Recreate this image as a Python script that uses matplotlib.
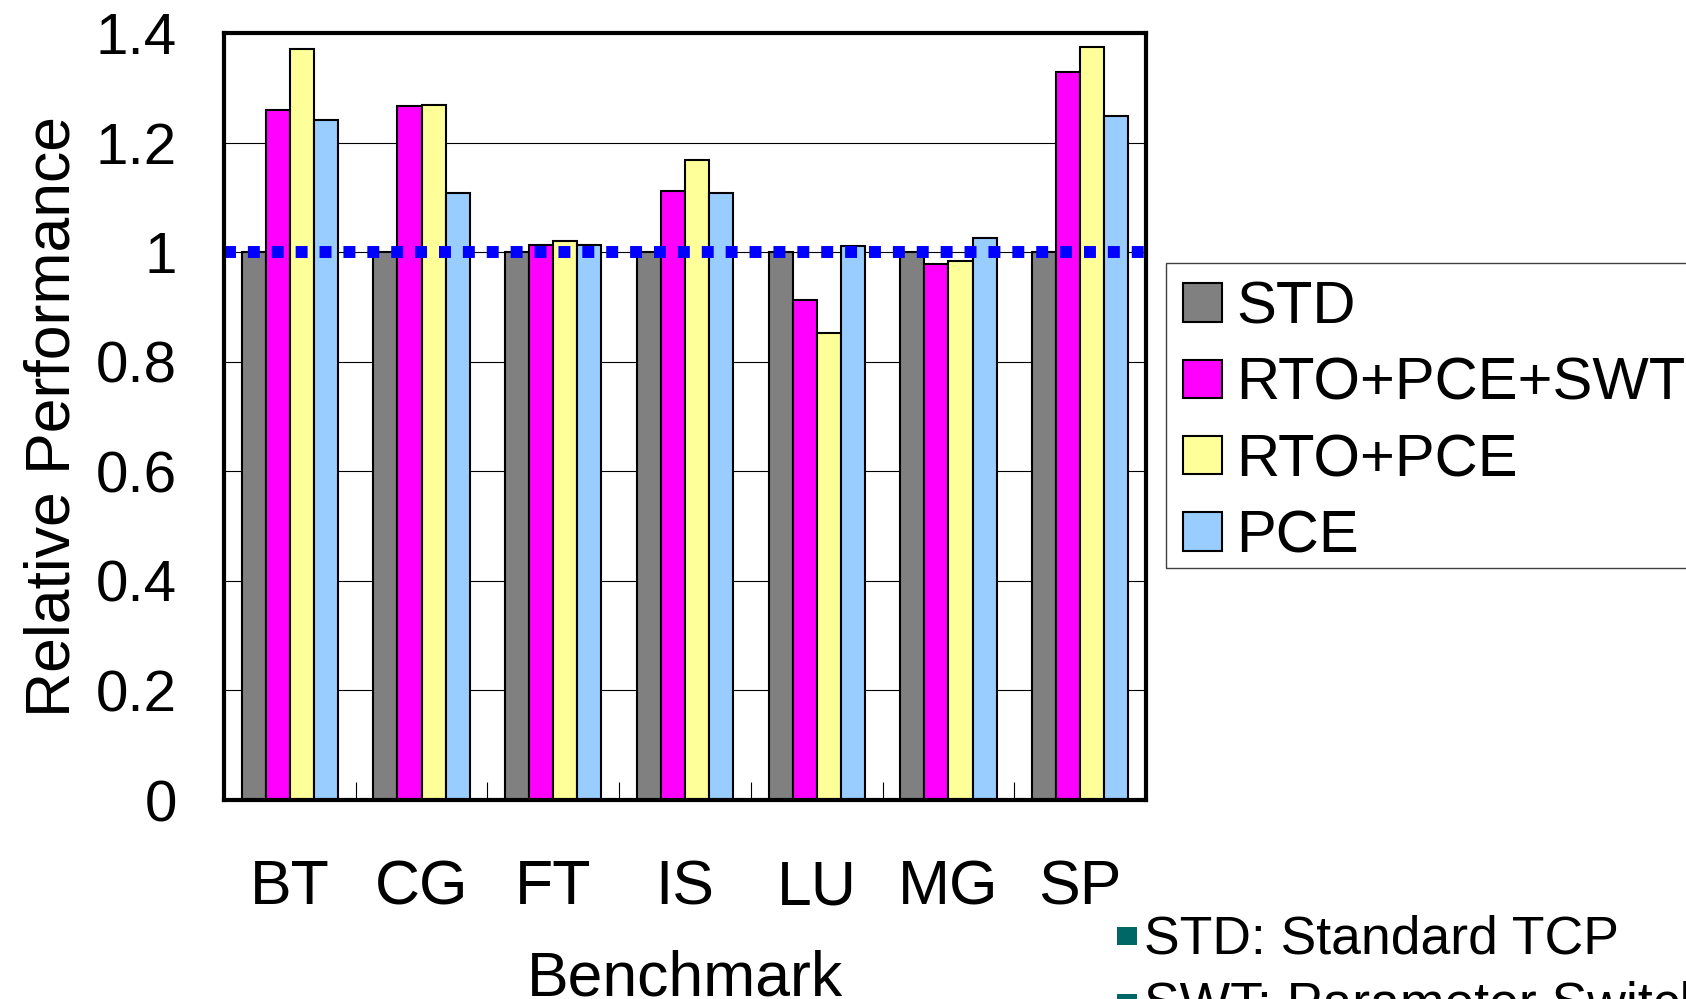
import matplotlib
matplotlib.use('Agg')
import matplotlib.pyplot as plt
import numpy as np
from matplotlib.patches import Rectangle

plt.rcParams['font.family'] = ['Liberation Sans', 'DejaVu Sans']

benchmarks = ['BT', 'CG', 'FT', 'IS', 'LU', 'MG', 'SP']
series_names = ['STD', 'RTO+PCE+SWT', 'RTO+PCE', 'PCE']
std = [1.0, 1.0, 1.0, 1.0, 1.0, 1.0, 1.0]
rto_pce_swt = [1.259, 1.266, 1.013, 1.111, 0.912, 0.979, 1.329]
rto_pce = [1.371, 1.268, 1.020, 1.169, 0.853, 0.984, 1.374]
pce = [1.242, 1.108, 1.013, 1.108, 1.012, 1.026, 1.248]
colors = ['#808080', '#FF00FF', '#FFFF99', '#99CCFF']
yticks = [0, 0.2, 0.4, 0.6, 0.8, 1.0, 1.2, 1.4]
ytick_labels = ['0', '0.2', '0.4', '0.6', '0.8', '1', '1.2', '1.4']
notes = ['STD: Standard TCP', 'SWT: Parameter Switching']

W, H = 1686, 999
fig = plt.figure(figsize=(W / 100, H / 100), dpi=100)
ax = fig.add_axes([224 / W, 1 - 800 / H, (1146 - 224) / W, (800 - 33) / H])

x = np.arange(len(benchmarks))
w = 0.183
for i, (vals, name) in enumerate(zip([std, rto_pce_swt, rto_pce, pce], series_names)):
    ax.bar(x + (i - 1.5) * w, vals, w, color=colors[i], edgecolor='black',
           linewidth=1.5, label=name, zorder=2)

# reference line at 1.0
ax.axhline(1.0, color='#0000FF', linewidth=8.6, linestyle=(0, (1, 1)),
           dash_capstyle='butt', zorder=4)

ax.set_xlim(-0.5, len(benchmarks) - 0.5)
ax.set_ylim(0, 1.4)
ax.set_yticks(yticks)
ax.set_yticklabels(ytick_labels)
ax.tick_params(axis='y', length=0, pad=34, labelsize=42)
ax.yaxis.grid(True, color='black', linewidth=0.8)
ax.set_axisbelow(True)

# group boundaries as ticks, names centred under groups
ax.set_xticks(np.arange(0.5, len(benchmarks) - 0.5, 1))
ax.set_xticklabels([])
ax.tick_params(axis='x', which='major', direction='in', length=13, width=0.8)
ax.set_xticks(x, minor=True)
ax.set_xticklabels(benchmarks, minor=True)
ax.tick_params(axis='x', which='minor', length=0, pad=42, labelsize=45)

for s in ax.spines.values():
    s.set_linewidth(3)
    s.set_zorder(5)

ax.set_xlabel('Benchmark', fontsize=45)
ax.xaxis.set_label_coords(0.5, -0.195)
ax.set_ylabel('Relative Performance', fontsize=45)
ax.yaxis.set_label_coords(-0.153, 0.5)

# legend without its own frame; box drawn separately
leg = ax.legend(loc='upper left', bbox_to_anchor=(1165.5 / W, 1 - 262.7 / H),
                bbox_transform=fig.transFigure, fontsize=43, frameon=False,
                borderpad=0.3, handlelength=0.64, handleheight=0.62,
                handletextpad=0.25, labelspacing=0.356, borderaxespad=0)
for hnd in leg.legend_handles:
    hnd.set_linewidth(1.5)
fig.add_artist(Rectangle((1165.5 / W, 1 - 568 / H), (1700 - 1165.5) / W,
                         (568 - 262.7) / H, transform=fig.transFigure,
                         facecolor='none', edgecolor='#404040', linewidth=1.0))

# notes at the bottom right
for k, t in enumerate(notes):
    yb = 953 + k * 66.7
    fig.add_artist(Rectangle((1116.7 / W, 1 - (yb - 8) / H), 20 / W, 18 / H,
                             transform=fig.transFigure, facecolor='#006666',
                             edgecolor='none'))
    fig.text(1144 / W, 1 - yb / H, t, fontsize=38.5, va='baseline', ha='left')

fig.savefig('out.png', dpi=100)
